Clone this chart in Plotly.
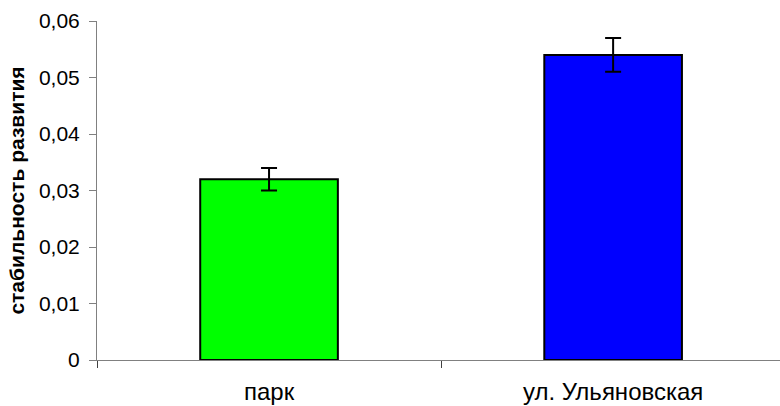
import plotly.graph_objects as go

categories = ["парк", "ул. Ульяновская"]
values = [0.032, 0.054]
errors = [0.002, 0.003]
colors = ["#00FF00", "#0000FF"]
y_ticks = [0, 0.01, 0.02, 0.03, 0.04, 0.05, 0.06]
y_tick_labels = ["0", "0,01", "0,02", "0,03", "0,04", "0,05", "0,06"]

fig = go.Figure()
fig.add_trace(go.Bar(
    x=categories,
    y=values,
    width=0.4,
    marker=dict(color=colors, line=dict(color="black", width=2)),
    error_y=dict(type="data", array=errors, visible=True,
                 color="black", thickness=2, width=8),
))

font = "Liberation Sans, Arial, sans-serif"
fig.update_layout(
    width=780, height=406,
    margin=dict(l=97, r=0, t=21, b=46, autoexpand=False),
    paper_bgcolor="white", plot_bgcolor="white",
    showlegend=False,
    separators=", ",
    font=dict(family=font, size=21, color="black"),
    xaxis=dict(
        type="category",
        range=[-0.5, 1.485],
        showline=True, linecolor="#808080", linewidth=1,
        ticks="outside", tickson="boundaries", ticklen=7,
        tickcolor="#404040", tickwidth=1,
        showgrid=False, zeroline=False,
        ticklabelstandoff=10,
        tickfont=dict(family=font, size=24, color="black"),
    ),
    yaxis=dict(
        range=[0, 0.06],
        tickvals=y_ticks, ticktext=y_tick_labels,
        showline=True, linecolor="#808080", linewidth=1,
        ticks="outside", ticklen=7, tickcolor="#808080", tickwidth=1,
        showgrid=False, zeroline=False,
        ticklabelstandoff=5,
        tickfont=dict(family=font, size=21, color="black"),
        title=dict(text="<b>стабильность развития</b>",
                   font=dict(family=font, size=21, color="black"),
                   standoff=8),
    ),
)

fig.write_html("out.html", config={"displayModeBar": False},
               post_script="document.body.style.margin='0';document.body.style.overflow='hidden';")
